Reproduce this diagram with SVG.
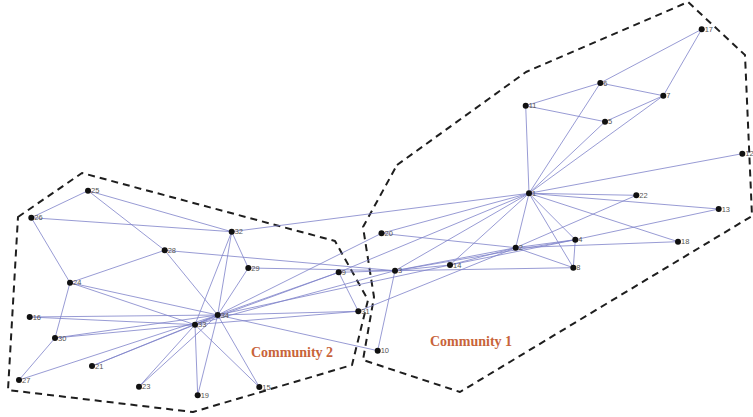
<svg xmlns="http://www.w3.org/2000/svg" width="753" height="417" viewBox="0 0 753 417">
<style>
.e{stroke:#7d82c9;stroke-width:0.8;fill:none}
.hull{fill:none;stroke:#1e1e1e;stroke-width:2;stroke-dasharray:7 5;stroke-linejoin:round}
.n circle{fill:#111}
.n text{font-family:"Liberation Sans","DejaVu Sans",sans-serif;font-size:7.5px;fill:#555}
.cl{font-family:"Liberation Serif","Times New Roman",serif;font-weight:bold;font-size:14px;fill:#c8643a}
</style>
<rect width="753" height="417" fill="#fff"/>
<g id="hulls">
<path id="hull1" class="hull" d="M397,165 L526,72 L688,2 L745,55 L752,216 L460,392 L363,360 L374,297 L363,227 Z"/>
<path id="hull2" class="hull" d="M18,217 L82,173 L335,241 L368,300 L352,365 L193,412 L8,390 Z"/>
</g>
<g id="edges">
<path class="e" d="M529,193.3L515.7,247.7M529,193.3L395,270.7M529,193.3L575.3,239.7M529,193.3L605,121.7M529,193.3L600.3,83M529,193.3L663.3,95.7M529,193.3L573.3,267.7M529,193.3L338.7,272.3M529,193.3L525.7,105.7M529,193.3L742.3,153.7M529,193.3L718.7,209M529,193.3L450,265M529,193.3L678,241.7M529,193.3L381.5,233.3M529,193.3L636.3,195.3M529,193.3L231.7,231.7"/>
<path class="e" d="M515.7,247.7L395,270.7M515.7,247.7L575.3,239.7M515.7,247.7L573.3,267.7M515.7,247.7L450,265M515.7,247.7L678,241.7M515.7,247.7L381.5,233.3M515.7,247.7L636.3,195.3M515.7,247.7L358.3,311.3"/>
<path class="e" d="M395,270.7L575.3,239.7M395,270.7L573.3,267.7M395,270.7L338.7,272.3M395,270.7L377.7,350.7M395,270.7L450,265M395,270.7L164.7,250.3M395,270.7L248.3,268M395,270.7L195,324.7"/>
<path class="e" d="M575.3,239.7L573.3,267.7M575.3,239.7L718.7,209M575.3,239.7L450,265"/>
<path class="e" d="M605,121.7L663.3,95.7M605,121.7L525.7,105.7M600.3,83L663.3,95.7M600.3,83L525.7,105.7M600.3,83L701.7,29.3M663.3,95.7L701.7,29.3"/>
<path class="e" d="M338.7,272.3L358.3,311.3M338.7,272.3L195,324.7M338.7,272.3L217.7,315M377.7,350.7L217.7,315M450,265L217.7,315M259.3,387L195,324.7M259.3,387L217.7,315M29.7,317L195,324.7M29.7,317L217.7,315M197.7,395.3L195,324.7M197.7,395.3L217.7,315M381.5,233.3L217.7,315M92,366L195,324.7M92,366L217.7,315M139,386.7L195,324.7M139,386.7L217.7,315"/>
<path class="e" d="M70,282.7L31.3,217.7M70,282.7L164.7,250.3M70,282.7L55,338M70,282.7L195,324.7M70,282.7L217.7,315"/>
<path class="e" d="M88,190.7L31.3,217.7M88,190.7L164.7,250.3M88,190.7L231.7,231.7M31.3,217.7L231.7,231.7M19,380L55,338M19,380L217.7,315M164.7,250.3L217.7,315M248.3,268L231.7,231.7M248.3,268L217.7,315M55,338L195,324.7M55,338L217.7,315M358.3,311.3L195,324.7M358.3,311.3L217.7,315M231.7,231.7L195,324.7M231.7,231.7L217.7,315M195,324.7L217.7,315"/>
</g>
<g id="nodes" class="n">
<g id="n1"><circle cx="529" cy="193.3" r="3"/><text x="532" y="196">1</text></g>
<g id="n2"><circle cx="515.7" cy="247.7" r="3"/><text x="518.7" y="250.4">2</text></g>
<g id="n3"><circle cx="395" cy="270.7" r="3"/><text x="398" y="273.4">3</text></g>
<g id="n4"><circle cx="575.3" cy="239.7" r="3"/><text x="578.3" y="242.4">4</text></g>
<g id="n5"><circle cx="605" cy="121.7" r="3"/><text x="608" y="124.4">5</text></g>
<g id="n6"><circle cx="600.3" cy="83" r="3"/><text x="603.3" y="85.7">6</text></g>
<g id="n7"><circle cx="663.3" cy="95.7" r="3"/><text x="666.3" y="98.4">7</text></g>
<g id="n8"><circle cx="573.3" cy="267.7" r="3"/><text x="576.3" y="270.4">8</text></g>
<g id="n9"><circle cx="338.7" cy="272.3" r="3"/><text x="341.7" y="275">9</text></g>
<g id="n10"><circle cx="377.7" cy="350.7" r="3"/><text x="380.7" y="353.4">10</text></g>
<g id="n11"><circle cx="525.7" cy="105.7" r="3"/><text x="528.7" y="108.4">11</text></g>
<g id="n12"><circle cx="742.3" cy="153.7" r="3"/><text x="745.3" y="156.4">12</text></g>
<g id="n13"><circle cx="718.7" cy="209" r="3"/><text x="721.7" y="211.7">13</text></g>
<g id="n14"><circle cx="450" cy="265" r="3"/><text x="453" y="267.7">14</text></g>
<g id="n15"><circle cx="259.3" cy="387" r="3"/><text x="262.3" y="389.7">15</text></g>
<g id="n16"><circle cx="29.7" cy="317" r="3"/><text x="32.7" y="319.7">16</text></g>
<g id="n17"><circle cx="701.7" cy="29.3" r="3"/><text x="704.7" y="32">17</text></g>
<g id="n18"><circle cx="678" cy="241.7" r="3"/><text x="681" y="244.4">18</text></g>
<g id="n19"><circle cx="197.7" cy="395.3" r="3"/><text x="200.7" y="398">19</text></g>
<g id="n20"><circle cx="381.5" cy="233.3" r="3"/><text x="384.5" y="236">20</text></g>
<g id="n21"><circle cx="92" cy="366" r="3"/><text x="95" y="368.7">21</text></g>
<g id="n22"><circle cx="636.3" cy="195.3" r="3"/><text x="639.3" y="198">22</text></g>
<g id="n23"><circle cx="139" cy="386.7" r="3"/><text x="142" y="389.4">23</text></g>
<g id="n24"><circle cx="70" cy="282.7" r="3"/><text x="73" y="285.4">24</text></g>
<g id="n25"><circle cx="88" cy="190.7" r="3"/><text x="91" y="193.4">25</text></g>
<g id="n26"><circle cx="31.3" cy="217.7" r="3"/><text x="34.3" y="220.4">26</text></g>
<g id="n27"><circle cx="19" cy="380" r="3"/><text x="22" y="382.7">27</text></g>
<g id="n28"><circle cx="164.7" cy="250.3" r="3"/><text x="167.7" y="253">28</text></g>
<g id="n29"><circle cx="248.3" cy="268" r="3"/><text x="251.3" y="270.7">29</text></g>
<g id="n30"><circle cx="55" cy="338" r="3"/><text x="58" y="340.7">30</text></g>
<g id="n31"><circle cx="358.3" cy="311.3" r="3"/><text x="361.3" y="314">31</text></g>
<g id="n32"><circle cx="231.7" cy="231.7" r="3"/><text x="234.7" y="234.4">32</text></g>
<g id="n33"><circle cx="195" cy="324.7" r="3"/><text x="198" y="327.4">33</text></g>
<g id="n34"><circle cx="217.7" cy="315" r="3"/><text x="220.7" y="317.7">34</text></g>
</g>
<g id="labels">
<text class="cl" x="251" y="357">Community 2</text>
<text class="cl" x="430" y="346">Community 1</text>
</g>
</svg>
